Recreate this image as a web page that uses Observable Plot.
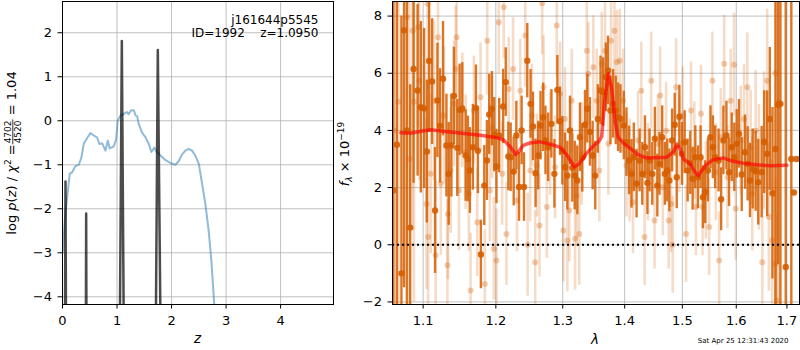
<!DOCTYPE html>
<html><head><meta charset="utf-8">
<script src="https://cdn.jsdelivr.net/npm/d3@7"></script>
<script src="https://cdn.jsdelivr.net/npm/@observablehq/plot@0.6"></script>
<style>
body{margin:0;background:#fff;}
#wrap{position:relative;width:800px;height:350px;font-family:"DejaVu Sans",sans-serif;}
#wrap > svg{position:absolute;top:0;}
</style></head><body><div id="wrap"></div>
<script>
// ---------- left panel data ----------
const zTicks = [0, 1, 2, 3, 4];
const logpTicks = [-4, -3, -2, -1, 0, 1, 2];
const zSmooth = [0.005,0.012,0.043,0.085,0.134,0.177,0.238,0.30,0.348,0.39,0.464,0.513,0.57,0.635,0.678,0.726,0.788,0.83,0.866,0.94,0.983,1.013,1.062,1.12,1.18,1.21,1.264,1.306,1.34,1.37,1.397,1.46,1.52,1.58,1.63,1.685,1.73,1.795,1.886,1.978,2.07,2.13,2.19,2.253,2.313,2.375,2.436,2.5,2.56,2.62,2.68,2.73,2.77,2.79];
const logpSmooth = [-3.0,-2.87,-2.27,-1.74,-1.2,-1.17,-1.03,-1.0,-0.83,-0.52,-0.37,-0.28,-0.33,-0.38,-0.53,-0.51,-0.68,-0.45,-0.63,-0.58,-0.43,0.0,0.12,0.15,0.2,0.15,0.24,0.24,0.12,0.1,-0.07,-0.27,-0.37,-0.52,-0.71,-0.61,-0.71,-0.79,-0.89,-0.96,-1.0,-0.92,-0.77,-0.68,-0.64,-0.68,-0.79,-0.98,-1.43,-1.89,-2.49,-3.17,-3.93,-4.3];
const zSpike = [0.045,0.055,0.065, 0.428,0.434,0.44, 1.05,1.088,1.125, 1.71,1.748,1.80];
const logpSpike = [-5,-1.38,-5, -5,-2.11,-5, -5,1.81,-5, -5,1.61,-5];
const objName = "j161644p5545";
const objInfo = "ID=1992    z=1.0950";

// ---------- right panel data ----------
const waveTicks = [1.1, 1.2, 1.3, 1.4, 1.5, 1.6, 1.7];
const fluxTicks = [-2, 0, 2, 4, 6, 8];
const waveDark = [1.0614,1.0660,1.0718,1.0752,1.0788,1.0831,1.0875,1.0927,1.0970,1.1013,1.1049,1.1079,1.1118,1.1158,1.1190,1.1225,1.1265,1.1311,1.1342,1.1378,1.1413,1.1459,1.1491,1.1528,1.1574,1.1605,1.1633,1.1675,1.1717,1.1745,1.1787,1.1835,1.1872,1.1905,1.1943,1.1977,1.2009,1.2048,1.2105,1.2143,1.2181,1.2215,1.2259,1.2298,1.2338,1.2376,1.2411,1.2460,1.2509,1.2545,1.2584,1.2624,1.2659,1.2699,1.2734,1.2775,1.2825,1.2871,1.2917,1.2958,1.2994,1.3036,1.3072,1.3114,1.3150,1.3188,1.3229,1.3271,1.3308,1.3351,1.3388,1.3430,1.3474,1.3516,1.3558,1.3601,1.3643,1.3688,1.3724,1.3764,1.3807,1.3851,1.3890,1.3930,1.3985,1.4030,1.4074,1.4115,1.4154,1.4201,1.4253,1.4298,1.4344,1.4386,1.4423,1.4470,1.4516,1.4558,1.4596,1.4643,1.4690,1.4732,1.4770,1.4818,1.4864,1.4900,1.4947,1.4995,1.5042,1.5096,1.5144,1.5186,1.5235,1.5284,1.5331,1.5375,1.5417,1.5466,1.5514,1.5559,1.5602,1.5665,1.5713,1.5756,1.5813,1.5863,1.5914,1.5963,1.6009,1.6053,1.6105,1.6169,1.6220,1.6265,1.6318,1.6376,1.6427,1.6494,1.6545,1.6603,1.6656,1.6709,1.6770,1.6821,1.6869,1.6976,1.7090,1.7143,1.7198];
const fluxDark = [1.9,3.5,-1.0,7.5,4.0,0.6,6.15,5.4,4.81,4.77,3.26,6.43,5.71,1.2,5.05,4.16,5.81,3.47,2.48,3.47,5.21,3.39,4.72,4.77,3.12,3.0,2.6,3.41,4.79,3.29,-0.34,2.07,2.95,4.56,4.76,3.85,2.74,3.82,4.84,5.69,3.09,3.06,2.56,3.82,2.02,4.0,2.02,6.44,4.93,4.14,2.5,3.12,4.17,4.46,3.65,3.41,4.23,2.48,5.42,4.32,3.29,2.71,2.42,4.0,2.69,2.42,2.25,3.76,3.04,4.2,4.76,3.95,3.12,2.42,4.4,5.4,5.34,5.86,6.1,4.7,4.93,4.7,4.46,4.4,4.17,3.59,2.95,2.48,3.06,2.14,2.95,2.48,3.41,2.16,2.95,2.48,3.71,2.07,2.83,3.76,2.48,2.6,2.25,3.65,4.2,2.36,4.48,3.18,3.59,2.6,2.86,2.31,3.06,2.36,3.06,1.66,1.84,2.6,3.76,3.41,3.06,2.95,1.59,3.65,3.82,2.54,3.41,3.06,3.53,3.88,2.46,3.24,2.83,2.25,2.65,2.57,2.19,2.54,3.59,3.18,4.4,1.8,3.35,4.9,4.93,-0.78,3.0,1.83,3.0];
const errDark = [8,10,9,9,7,5,4,3,3,2.8,2.5,2.5,2.2,2.2,2.0,2.0,2.0,1.8,1.8,1.8,1.7,1.7,1.6,1.6,1.6,1.5,1.5,1.5,1.5,1.5,1.2,1.4,1.4,1.4,1.3,1.3,1.3,1.3,1.3,1.2,1.2,1.2,1.2,1.2,1.2,1.2,1.2,1.3,1.2,1.2,1.2,1.2,1.2,1.2,1.2,1.2,1.2,1.2,1.2,1.2,1.2,1.2,1.2,1.2,1.2,1.2,1.2,1.2,1.2,1.2,1.2,1.2,1.2,1.2,1.2,1.2,1.2,1.2,1.2,1.2,1.2,1.2,1.2,1.2,1.2,1.2,1.2,1.2,1.2,1.2,1.1,1.1,1.1,1.1,1.1,1.1,1.1,1.1,1.1,1.1,1.1,1.1,1.1,1.1,1.1,1.1,1.1,1.1,1.1,1.1,1.1,1.1,1.1,1.1,1.1,1.1,1.1,1.1,1.1,1.1,1.1,1.1,1.1,1.2,1.2,1.2,1.2,1.2,1.2,1.2,1.3,1.3,1.3,1.3,1.4,1.4,1.5,1.6,1.8,2.2,2.5,3,6,5.6,10,10,10];
const waveLight = [1.0630,1.0680,1.0788,1.0820,1.0862,1.0880,1.0935,1.0948,1.1045,1.1058,1.1066,1.1101,1.1145,1.1167,1.1198,1.1235,1.1278,1.1324,1.1332,1.1369,1.1414,1.1437,1.1450,1.1482,1.1528,1.1574,1.1619,1.1643,1.1689,1.1736,1.1782,1.1843,1.1877,1.1914,1.1948,1.1971,1.2009,1.2042,1.2091,1.2114,1.2153,1.2186,1.2250,1.2308,1.2356,1.2430,1.2465,1.2504,1.2529,1.2579,1.2604,1.2643,1.2684,1.2704,1.2755,1.2805,1.2881,1.2907,1.2958,1.3010,1.3036,1.3072,1.3103,1.3141,1.3193,1.3220,1.3260,1.3299,1.3379,1.3404,1.3485,1.3540,1.3582,1.3621,1.3675,1.3730,1.3774,1.3830,1.3870,1.3918,1.3974,1.4031,1.4084,1.4140,1.4225,1.4282,1.4338,1.4395,1.4452,1.4510,1.4567,1.4608,1.4654,1.4712,1.4758,1.4800,1.4828,1.4889,1.4947,1.5006,1.5067,1.5157,1.5217,1.5247,1.5338,1.5368,1.5429,1.5490,1.5551,1.5614,1.5676,1.5708,1.5771,1.5832,1.5895,1.5958,1.5990,1.6086,1.6149,1.6213,1.6278,1.6310,1.6376,1.6440,1.6506,1.6539,1.6603,1.6636,1.6701,1.6765,1.6770,1.6802,1.6835];
const fluxLight = [4.0,5.0,7.96,3.0,7.49,5.0,7.61,5.74,1.43,8.43,0.27,2.48,5.04,-0.37,7.26,2.13,4.52,-0.72,1.08,2.6,4.93,6.15,7.26,1.9,4.7,3.24,1.78,-1.6,4.7,0.79,5.16,-1.37,7.14,1.9,4.11,-0.14,-0.55,7.78,2.48,8.31,0.38,5.45,6.15,1.55,5.39,7.32,0.0,2.6,4.52,-0.61,2.77,0.67,8.45,5.51,1.32,3.53,2.71,7.67,5.28,0.5,4.4,0.15,1.2,5.04,0.21,1.72,0.38,3.18,6.79,5.98,6.21,5.04,2.6,6.33,6.79,3.53,7.14,7.49,6.39,6.44,5.04,2.77,2.6,1.49,3.65,5.39,0.27,2.54,5.74,0.85,3.53,5.22,2.01,3.99,0.85,1.43,0.0,5.51,3.53,4.52,0.38,4.7,3.3,1.32,4.58,1.32,1.9,0.62,5.74,2.54,-0.55,3.76,6.33,2.36,5.04,6.3,1.26,3.65,4.4,5.51,3.41,1.78,3.99,2.71,-0.61,3.65,5.74,0.97,0.15,6.0,-0.67,-1.95,5.0];
const errLight = [10,10,8,8,7,7,3.5,3.5,3,3,3,2.8,2.8,2.6,2.6,2.5,2.4,2.3,2.3,2.2,2.2,2.2,2.1,2.1,2.0,2.0,2.0,2.0,1.9,1.9,1.9,1.9,1.9,1.8,1.8,1.8,1.8,1.8,1.8,1.8,1.8,1.8,1.8,1.8,1.8,1.8,1.8,1.8,1.8,1.8,1.8,1.8,1.8,1.8,1.8,1.8,1.8,1.8,1.8,1.8,1.8,1.8,1.8,1.8,1.8,1.8,1.8,1.8,1.8,1.8,1.8,1.8,1.8,1.8,1.8,1.8,1.8,1.8,1.8,1.8,1.8,1.8,1.8,1.8,1.7,1.7,1.7,1.7,1.7,1.7,1.7,1.7,1.7,1.7,1.7,1.7,1.7,1.7,1.7,1.7,1.7,1.7,1.7,1.7,1.7,1.7,1.7,1.7,1.7,1.7,1.7,1.7,1.7,1.8,1.8,1.8,1.8,1.9,1.9,1.9,2.0,2.0,2.1,2.2,2.3,2.4,2.5,2.6,2.8,10,3,3,10];
const waveModel = [1.071,1.084,1.097,1.110,1.1325,1.155,1.178,1.2017,1.211,1.2215,1.2285,1.233,1.240,1.250,1.265,1.280,1.296,1.307,1.318,1.326,1.337,1.351,1.357,1.362,1.367,1.373,1.378,1.384,1.389,1.400,1.411,1.422,1.436,1.455,1.472,1.484,1.490,1.496,1.502,1.514,1.523,1.529,1.535,1.544,1.556,1.575,1.594,1.614,1.640,1.667,1.700];
const fluxModel = [3.92,3.90,3.97,4.02,3.95,3.89,3.83,3.74,3.67,3.41,3.16,3.25,3.48,3.56,3.60,3.52,3.41,3.13,2.72,2.83,3.18,3.51,3.60,3.78,5.05,5.98,5.51,4.35,3.76,3.51,3.35,3.16,3.04,3.04,3.06,3.25,3.51,3.35,3.00,2.83,2.54,2.42,2.59,2.80,2.97,3.04,2.92,2.85,2.80,2.76,2.78];
const dateText = "Sat Apr 25 12:31:43 2020";

// ---------- build tables ----------
const smooth = zSmooth.map((z, i) => ({z, p: logpSmooth[i]}));
const spike = zSpike.map((z, i) => ({z, p: logpSpike[i]}));
const dark = waveDark.map((w, i) => ({w, f: fluxDark[i], e: errDark[i]}));
const light = waveLight.map((w, i) => ({w, f: fluxLight[i], e: errLight[i]}));
const model = waveModel.map((w, i) => ({w, f: fluxModel[i]}));

const ORANGE = "#d55e00";
const GRID = {stroke: "#b0b0b0", strokeOpacity: 1, strokeWidth: 0.8};
const baseStyle = {fontFamily: "DejaVu Sans, sans-serif", fontSize: "13px", color: "black", background: "transparent", overflow: "visible"};
const wrap = document.getElementById("wrap");

const left = Plot.plot({
  width: 340, height: 350,
  marginLeft: 62, marginRight: 7, marginTop: 1, marginBottom: 46,
  style: baseStyle,
  x: {domain: [0, 4.97]},
  y: {domain: [-4.175, 2.71]},
  marks: [
    Plot.gridX(zTicks, GRID),
    Plot.gridY(logpTicks, GRID),
    Plot.line(smooth, {x: "z", y: "p", stroke: "#1f77b4", strokeOpacity: 0.5, strokeWidth: 2, clip: true}),
    Plot.line(spike, {x: "z", y: "p", stroke: "black", strokeOpacity: 0.7, strokeWidth: 2.5, strokeLinejoin: "round", clip: true}),
    Plot.axisX(zTicks, {tickSize: 4.5, tickPadding: 7, label: null, tickFormat: d => String(d)}),
    Plot.axisY(logpTicks, {tickSize: 4.5, tickPadding: 6, label: null}),
    Plot.frame({stroke: "black", strokeWidth: 1})
  ]
});
left.style.left = "0px";
wrap.appendChild(left);

const right = Plot.plot({
  width: 460, height: 350,
  marginLeft: 52, marginRight: 1, marginTop: 1, marginBottom: 46,
  style: baseStyle,
  x: {type: "log", domain: [1.0604, 1.7258]},
  y: {domain: [-2.09, 8.51]},
  marks: [
    Plot.gridX(waveTicks, GRID),
    Plot.gridY(fluxTicks, GRID),
    Plot.ruleX(light, {x: "w", y1: d => d.f - d.e, y2: d => d.f + d.e, stroke: ORANGE, strokeOpacity: 0.22, strokeWidth: 2.6, clip: true}),
    Plot.dot(light, {x: "w", y: "f", r: 3, fill: ORANGE, fillOpacity: 0.3, clip: true}),
    Plot.ruleX(dark, {x: "w", y1: d => d.f - d.e, y2: d => d.f + d.e, stroke: ORANGE, strokeOpacity: 0.85, strokeWidth: 2.4, clip: true}),
    Plot.dot(dark, {x: "w", y: "f", r: 3.2, fill: ORANGE, fillOpacity: 0.9, clip: true}),
    Plot.line(model, {x: "w", y: "f", stroke: "red", strokeOpacity: 0.65, strokeWidth: 3.5, clip: true}),
    Plot.ruleY([0], {stroke: "black", strokeWidth: 1.8, strokeDasharray: "2,3", clip: true}),
    Plot.axisX(waveTicks, {tickSize: 4.5, tickPadding: 7, label: null, tickFormat: d3.format(".1f")}),
    Plot.axisY(fluxTicks, {tickSize: 4.5, tickPadding: 6, label: null}),
    Plot.frame({stroke: "black", strokeWidth: 1})
  ]
});
right.style.left = "340px";
wrap.appendChild(right);

// ---------- text overlay ----------
const ov = d3.select(wrap).append("svg")
  .attr("width", 800).attr("height", 350)
  .style("left", "0px").style("pointer-events", "none")
  .attr("font-family", "DejaVu Sans, sans-serif");

ov.append("text").attr("x", 318.5).attr("y", 24).attr("text-anchor", "end")
  .attr("font-size", 12).text(objName);
ov.append("text").attr("x", 318.5).attr("y", 36.5).attr("text-anchor", "end")
  .attr("font-size", 12).style("white-space", "pre").text(objInfo);

ov.append("text").attr("x", 197.5).attr("y", 343).attr("text-anchor", "middle")
  .attr("font-size", 13.5).attr("font-style", "italic").text("z");
ov.append("text").attr("x", 595).attr("y", 344).attr("text-anchor", "middle")
  .attr("font-size", 13.5).attr("font-style", "italic").text("λ");
ov.append("text").attr("x", 788.5).attr("y", 343).attr("text-anchor", "end")
  .attr("font-size", 7).text(dateText);

// right y label
const ry = ov.append("text").attr("transform", "translate(349,154) rotate(-90)")
  .attr("text-anchor", "middle").attr("font-size", 13);
ry.append("tspan").attr("font-style", "italic").text("f");
ry.append("tspan").attr("font-style", "italic").attr("font-size", 9).attr("dy", 3).text("λ");
ry.append("tspan").attr("dy", -3).text(" × 10");
ry.append("tspan").attr("font-size", 9).attr("dy", -5.5).text("−19");

// left y label with fraction
const g = ov.append("g").attr("transform", "translate(16,153) rotate(-90)").attr("font-size", 13);
const t1 = g.append("text");
t1.append("tspan").text("log ");
t1.append("tspan").attr("font-style", "italic").text("p");
t1.append("tspan").text("(");
t1.append("tspan").attr("font-style", "italic").text("z");
t1.append("tspan").text(") / ");
t1.append("tspan").attr("font-style", "italic").text("χ");
t1.append("tspan").attr("font-size", 9).attr("dy", -5).text("2");
t1.append("tspan").attr("dy", 5).text(" = ");
const num = g.append("text").attr("font-size", 9).attr("text-anchor", "middle").attr("y", -5).text("4702");
const den = g.append("text").attr("font-size", 9).attr("text-anchor", "middle").attr("y", 4.5).text("4520");
const bar = g.append("line").attr("stroke", "black").attr("stroke-width", 0.8);
const t3 = g.append("text").style("white-space", "pre").text(" = 1.04");
const w1 = t1.node().getComputedTextLength();
const wf = Math.max(num.node().getComputedTextLength(), den.node().getComputedTextLength()) + 2;
const w3 = t3.node().getComputedTextLength();
const x0 = -(w1 + wf + w3) / 2;
t1.attr("x", x0);
num.attr("x", x0 + w1 + wf / 2);
den.attr("x", x0 + w1 + wf / 2);
bar.attr("x1", x0 + w1).attr("x2", x0 + w1 + wf).attr("y1", -3.2).attr("y2", -3.2);
t3.attr("x", x0 + w1 + wf);
</script></body></html>
